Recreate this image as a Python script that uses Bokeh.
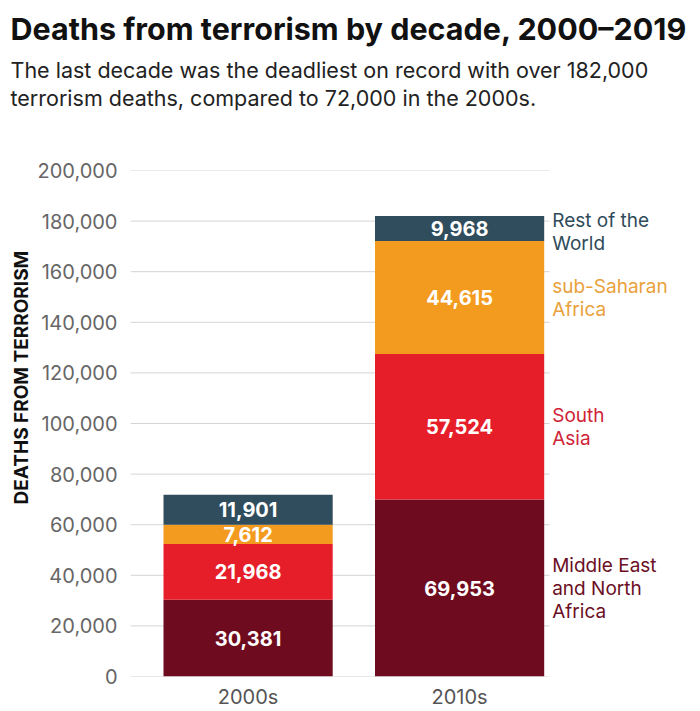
from bokeh.plotting import figure
from bokeh.models import (ColumnDataSource, Range1d, FixedTicker, NumeralTickFormatter, Title)
from bokeh.core.properties import value
from bokeh.embed import file_html
from bokeh.resources import INLINE

# ---- data ----
decades = ["2000s", "2010s"]
regions = ["Middle East and North Africa", "South Asia", "sub-Saharan Africa", "Rest of the World"]
legend_labels = ["Middle East\nand North\nAfrica", "South\nAsia", "sub-Saharan\nAfrica", "Rest of the\nWorld"]
mena = [30381, 69953]
south_asia = [21968, 57524]
sub_saharan = [7612, 44615]
rest_of_world = [11901, 9968]
y_ticks = [0, 20000, 40000, 60000, 80000, 100000, 120000, 140000, 160000, 180000, 200000]

series = [mena, south_asia, sub_saharan, rest_of_world]
bar_colors = ["#6e0b1e", "#e61e2a", "#f39b1f", "#2f4d5c"]
label_colors = ["#6b0f25", "#cf2436", "#e9a13c", "#2f4b5a"]
label_nudge = [0, 0, 0, 4]   # pixel nudge of the right-hand labels

BAR_W = 0.8
X_START, X_END = -0.556, 2.139
xs = list(range(len(decades)))

p = figure(width=700, height=711,
           x_range=Range1d(X_START, X_END), y_range=Range1d(0, 200000),
           output_backend="svg", toolbar_location=None, title=None,
           min_border_left=130, min_border_right=0, min_border_top=0, min_border_bottom=34)
p.outline_line_color = None
p.background_fill_color = "white"
p.border_fill_color = "white"

FONT = "Inter"

# titles (first added is closest to the frame)
t_space = Title(text=" ", text_font=FONT, text_font_size="12px", standoff=43)
t_sub2 = Title(text="terrorism deaths, compared to 72,000 in the 2000s.",
               text_font=FONT, text_font_size="21.5px", text_font_style="normal",
               text_color="#222222", standoff=0, offset=-120)
t_sub1 = Title(text="The last decade was the deadliest on record with over 182,000",
               text_font=FONT, text_font_size="21.5px", text_font_style="normal",
               text_color="#222222", standoff=0, offset=-120)
t_main = Title(text="Deaths from terrorism by decade, 2000\u20132019",
               text_font=FONT, text_font_size="30.5px", text_font_style="bold",
               text_color="#111111", standoff=15, offset=-120)
p.add_layout(t_space, "above")
p.add_layout(t_sub2, "above")
p.add_layout(t_sub1, "above")
p.add_layout(t_main, "above")

# horizontal grid lines, stopping just past the last bar
grid_end = xs[-1] + BAR_W / 2 + 0.025
p.segment(x0=[X_START] * len(y_ticks), x1=[grid_end] * len(y_ticks), y0=y_ticks, y1=y_ticks,
          line_color="#d4d4d4", line_width=1)

# stacked bars
bottom = [0] * len(decades)
seg_x, seg_y, seg_txt = [], [], []
leg_y = []
for vals, col in zip(series, bar_colors):
    top = [b + v for b, v in zip(bottom, vals)]
    src = ColumnDataSource(dict(x=xs, bottom=bottom, top=top))
    p.vbar(x="x", bottom="bottom", top="top", width=BAR_W, source=src,
           fill_color=col, line_color=None)
    for i in xs:
        seg_x.append(i)
        seg_y.append((bottom[i] + top[i]) / 2)
        seg_txt.append(f"{vals[i]:,}")
    leg_y.append((bottom[-1] + top[-1]) / 2)
    bottom = top

val_src = ColumnDataSource(dict(x=seg_x, y=seg_y, t=seg_txt))
p.text(x="x", y="y", text="t", source=val_src, text_align="center",
       text_baseline="middle", text_color="white", text_font=value(FONT),
       text_font_style="bold", text_font_size="20px")

# right-hand labels (legend)
leg_src = ColumnDataSource(dict(x=[xs[-1] + BAR_W / 2] * len(legend_labels), y=leg_y,
                                t=legend_labels, c=label_colors, dy=label_nudge))
p.text(x="x", y="y", text="t", source=leg_src, x_offset=8, y_offset="dy",
       text_align="left", text_baseline="middle", text_color="c",
       text_font=value(FONT), text_font_size="19px", text_line_height=1.0)

# axes
p.xaxis.ticker = FixedTicker(ticks=xs)
p.xaxis.major_label_overrides = {i: d for i, d in zip(xs, decades)}
p.xaxis.axis_line_color = None
p.xaxis.major_tick_line_color = None
p.xaxis.minor_tick_line_color = None
p.xaxis.major_tick_out = 0
p.xaxis.major_tick_in = 0
p.xaxis.major_label_text_font = FONT
p.xaxis.major_label_text_font_size = "20px"
p.xaxis.major_label_text_color = "#555555"
p.xaxis.major_label_standoff = 8
p.xgrid.visible = False
p.ygrid.visible = False

p.yaxis.ticker = FixedTicker(ticks=y_ticks)
p.yaxis.formatter = NumeralTickFormatter(format="0,0")
p.yaxis.axis_line_color = None
p.yaxis.major_tick_line_color = None
p.yaxis.minor_tick_line_color = None
p.yaxis.major_tick_out = 0
p.yaxis.major_tick_in = 0
p.yaxis.major_label_text_font = FONT
p.yaxis.major_label_text_font_size = "20px"
p.yaxis.major_label_text_color = "#666666"
p.yaxis.major_label_standoff = 13

y_title = Title(text="DEATHS FROM TERRORISM", text_font=FONT, text_font_size="19px",
                text_font_style="bold", text_color="#111111", align="left", offset=172,
                standoff=4)
p.add_layout(y_title, "left")

open("out.html", "w").write(file_html(p, INLINE))
